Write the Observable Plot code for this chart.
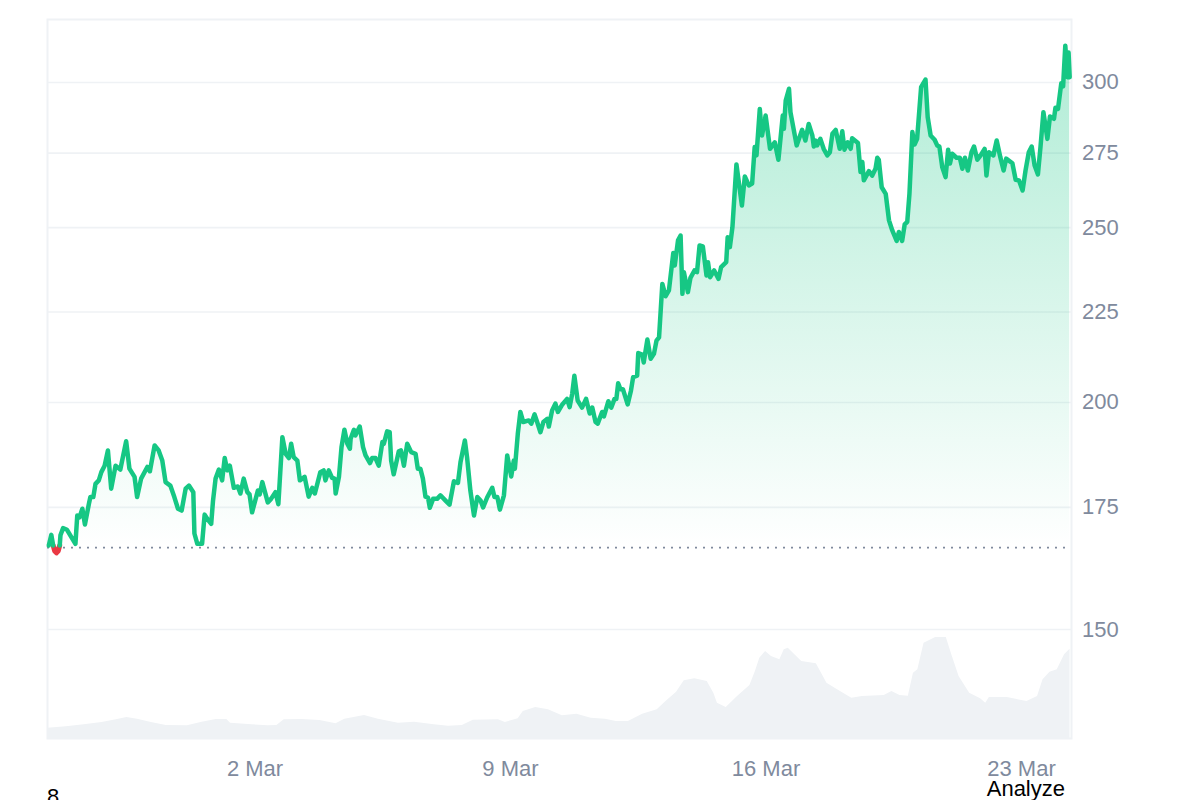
<!DOCTYPE html>
<html>
<head>
<meta charset="utf-8">
<script src="https://cdn.jsdelivr.net/npm/d3@7"></script>
<script src="https://cdn.jsdelivr.net/npm/@observablehq/plot@0.6"></script>
<style>
html,body{margin:0;padding:0;background:#fff;overflow:hidden;width:1200px;height:800px;position:relative;}
#chart{display:block;height:800px;}
#foot{position:absolute;left:0;top:776px;width:1200px;height:24px;font-family:"Liberation Sans",Arial,sans-serif;font-size:22px;color:#000;}
#foot span{position:absolute;white-space:nowrap;}
#count{left:47px;top:8px;}
#analyze{right:135px;top:0;}
</style>
</head>
<body>
<div id="chart"></div>
<div id="foot"><span id="count">8</span><span id="analyze">Analyze</span></div>
<script>
// days relative to 2 March
const priceDays = [-5.65,-5.58,-5.53,-5.49,-5.44,-5.39,-5.35,-5.33,-5.26,-5.15,-5.06,-4.92,-4.87,-4.81,-4.73,-4.66,-4.55,-4.51,-4.43,-4.37,-4.28,-4.21,-4.12,-4.03,-3.94,-3.82,-3.69,-3.53,-3.44,-3.30,-3.23,-3.12,-2.95,-2.88,-2.75,-2.64,-2.54,-2.45,-2.32,-2.21,-2.11,-2.01,-1.90,-1.81,-1.69,-1.66,-1.58,-1.45,-1.38,-1.31,-1.20,-1.15,-1.08,-0.99,-0.90,-0.83,-0.76,-0.69,-0.58,-0.47,-0.40,-0.31,-0.21,-0.15,-0.08,0.08,0.13,0.20,0.35,0.44,0.56,0.64,0.75,0.84,0.93,0.99,1.06,1.16,1.23,1.36,1.47,1.57,1.64,1.79,1.88,1.93,2.02,2.11,2.18,2.21,2.30,2.37,2.45,2.53,2.60,2.62,2.71,2.75,2.87,2.96,3.03,3.15,3.21,3.30,3.39,3.49,3.53,3.62,3.69,3.73,3.80,3.94,4.00,4.08,4.17,4.28,4.40,4.46,4.53,4.60,4.67,4.74,4.79,4.88,4.99,5.08,5.22,5.33,5.45,5.56,5.63,5.75,5.81,5.90,6.00,6.09,6.18,6.25,6.36,6.50,6.56,6.64,6.71,6.82,6.91,7.02,7.09,7.12,7.20,7.27,7.35,7.50,7.57,7.66,7.73,7.82,7.90,8.01,8.05,8.14,8.23,8.30,8.42,8.55,8.62,8.69,8.75,8.84,8.96,9.07,9.17,9.24,9.33,9.39,9.51,9.56,9.68,9.76,9.85,9.90,9.95,10.01,10.08,10.21,10.30,10.36,10.47,10.50,10.61,10.65,10.75,10.84,10.93,11.00,11.07,11.16,11.25,11.34,11.46,11.50,11.59,11.66,11.71,11.75,11.86,11.93,12.04,12.11,12.18,12.27,12.37,12.41,12.47,12.58,12.70,12.77,12.91,12.95,13.01,13.08,13.19,13.34,13.42,13.53,13.62,13.69,13.74,13.83,13.89,13.99,14.11,14.24,14.34,14.46,14.49,14.54,14.63,14.67,14.84,14.99,15.08,15.17,15.27,15.31,15.36,15.40,15.49,15.58,15.68,15.75,15.82,15.91,16.02,16.09,16.15,16.24,16.32,16.36,16.52,16.59,16.64,16.68,16.82,16.91,17.00,17.05,17.09,17.17,17.28,17.37,17.46,17.58,17.64,17.73,17.80,17.87,17.93,18.01,18.07,18.14,18.25,18.37,18.43,18.51,18.62,18.69,18.75,18.83,18.92,18.99,19.04,19.10,19.22,19.31,19.38,19.45,19.53,19.63,19.70,19.79,19.88,19.99,20.04,20.11,20.23,20.32,20.42,20.51,20.58,20.75,20.84,20.93,21.03,21.11,21.20,21.28,21.36,21.45,21.52,21.60,21.71,21.78,21.89,21.93,22.00,22.09,22.14,22.20,22.26,22.29,22.32];
const priceValues = [166.85,169.1,166.85,165.7,165.3,165.7,166.85,169.0,170.55,170.2,169.0,167.2,173.3,172.9,174.8,171.35,175.9,177.4,177.4,180.4,181.2,183.1,184.6,188.2,179.3,184.6,183.7,190.4,183.9,182.0,177.4,181.6,184.3,183.3,189.4,188.2,185.8,180.8,180.0,177.4,174.8,174.4,179.3,180.0,178.5,169.4,167.2,167.2,173.5,172.6,171.5,176.6,181.6,183.7,181.2,186.4,183.5,184.6,179.5,179.8,178.2,181.6,178.5,178.0,174.0,178.9,178.0,180.8,176.2,177.0,178.5,175.8,191.4,187.4,186.4,189.8,186.6,185.8,181.2,182.0,177.5,179.5,178.2,183.1,183.5,181.2,183.5,181.8,181.6,178.2,182.0,189.0,193.2,189.8,188.6,191.0,193.2,191.8,194.0,189.0,187.0,185.2,186.4,186.4,184.6,190.2,189.8,192.8,192.6,185.8,182.6,188.0,188.2,184.6,189.8,187.8,187.4,183.9,183.9,181.6,177.5,177.3,175.0,177.0,177.0,177.8,176.6,175.7,181.0,180.6,185.4,190.6,186.6,178.9,173.3,177.4,176.6,175.1,177.3,179.5,177.4,177.4,174.6,177.8,187.0,182.1,185.8,183.9,192.2,197.6,195.1,195.5,194.7,197.0,195.1,192.6,195.1,195.9,194.0,198.0,199.7,197.6,199.5,200.9,198.8,202.2,206.9,200.5,198.7,200.9,197.2,198.7,195.1,194.7,197.6,196.5,200.3,198.7,200.9,200.9,204.9,203.4,203.4,199.5,203.0,206.5,206.9,212.9,212.5,210.4,216.6,211.4,212.7,216.3,217.2,232.4,228.8,230.5,241.7,237.9,245.6,247.1,229.5,235.9,230.0,234.2,236.4,235.9,244.0,243.7,234.9,238.9,234.4,236.4,233.9,237.4,238.9,246.6,243.5,249.7,270.4,256.7,266.3,263.3,263.9,276.4,273.5,290.1,280.5,287.7,275.8,278.1,272.0,287.7,282.9,293.2,297.6,288.9,277.0,282.5,278.7,284.6,280.5,276.6,278.7,277.0,279.3,275.8,273.5,274.6,281.1,282.5,275.8,282.0,275.5,278.1,275.8,279.5,277.8,267.8,271.2,265.0,268.1,266.6,268.9,272.7,272.0,262.7,260.5,251.9,248.7,245.4,248.2,245.4,250.6,251.4,260.5,281.7,277.3,279.3,298.2,301.1,287.1,280.5,279.0,277.0,276.6,269.4,266.1,275.5,270.7,274.1,272.7,272.7,268.9,272.7,268.3,274.6,276.6,272.0,273.5,275.8,266.6,274.6,273.5,278.7,272.9,268.3,272.4,270.8,265.2,265.0,261.6,268.3,274.6,276.6,270.0,267.0,276.4,288.9,279.3,287.3,286.5,290.5,290.1,299.7,298.5,314.3,302.0,311.6,302.0];
const volumeDays = [-5.68,-5.17,-4.68,-4.19,-3.80,-3.51,-3.22,-2.84,-2.43,-1.85,-1.45,-1.06,-0.77,-0.67,-0.08,0.36,0.60,0.80,1.28,1.78,2.22,2.46,3.00,3.38,3.93,4.37,4.91,5.30,5.68,5.98,6.67,6.86,7.21,7.35,7.69,8.04,8.42,8.82,9.21,9.60,9.90,10.23,10.62,11.02,11.26,11.55,11.76,12.05,12.39,12.57,12.67,12.91,13.22,13.56,13.71,13.83,13.99,14.15,14.38,14.50,14.61,14.98,15.38,15.67,15.96,16.35,16.64,17.24,17.45,17.67,17.90,18.04,18.16,18.33,18.65,18.94,19.09,19.29,19.58,19.88,20.02,20.12,20.61,21.15,21.44,21.59,21.78,21.98,22.18,22.33];
const volumeValues = [103,117,137,160,187,210,193,160,130,127,163,190,190,153,137,127,130,187,190,180,147,193,230,193,153,163,137,123,130,183,187,160,197,270,310,287,227,243,203,193,170,170,243,287,370,463,577,597,570,453,353,310,420,530,670,803,870,820,787,887,903,770,747,553,487,403,420,430,470,430,423,653,687,953,1010,1010,837,620,453,397,353,410,410,370,420,587,663,687,837,893];
const yTickValues = [150,175.1,200,224.3,249.6,274.3,300];
const yTickLabels = ["150","175","200","225","250","275","300"];
const xTickDays = [0,7,14,21];
const xTickLabels = ["2 Mar","9 Mar","16 Mar","23 Mar"];
const openingPrice = 166.4;

const base = Date.UTC(2025,2,2);
const toDate = d => new Date(base + d*864e5);
const points = priceDays.map((d,i)=>({day:d,date:toDate(d),price:priceValues[i]}));
const volume = volumeDays.map((d,i)=>({date:toDate(d),vol:volumeValues[i]}));
const xDomain = [toDate(-5.685), toDate(22.37)];
const xTicks = xTickDays.map(toDate);
const xLabelFor = new Map(xTicks.map((d,i)=>[+d,xTickLabels[i]]));
const yLabelFor = new Map(yTickValues.map((d,i)=>[d,yTickLabels[i]]));
const W = 1200, H = 800, mL = 47, mR = 129, mT = 19, mB = 62;
const font = '"Liberation Sans",Arial,sans-serif';
const axisFill = "#808a9d", gridC = "#eff2f5", green = "#16c784", red = "#ea3943";

const redPart = points.filter(d=>d.day>=-5.53 && d.day<=-5.35);
const greenPart = points.filter(d=>d.day<=-5.53 || d.day>=-5.35);

const volumePlot = () => Plot.plot({
  width:W,height:H,marginLeft:mL,marginRight:mR,marginTop:mT,marginBottom:mB,
  style:{background:"transparent"},
  x:{type:"utc",domain:xDomain,axis:null},
  y:{domain:[0,7190],axis:null},
  marks:[Plot.areaY(volume,{x:"date",y:"vol",fill:gridC})]
});

const gradient = () => {
  const defs = d3.create("svg:defs");
  const g = defs.append("linearGradient").attr("id","priceFill").attr("x1",0).attr("y1",0).attr("x2",0).attr("y2",1);
  g.append("stop").attr("offset","0%").attr("stop-color",green).attr("stop-opacity",0.34);
  g.append("stop").attr("offset","100%").attr("stop-color",green).attr("stop-opacity",0);
  return defs.node();
};

const chart = Plot.plot({
  width:W,height:H,marginLeft:mL,marginRight:mR,marginTop:mT,marginBottom:mB,
  style:{background:"transparent",fontFamily:font},
  x:{type:"utc",domain:xDomain},
  y:{type:"log",domain:[130.65,324.9]},
  marks:[
    gradient,
    volumePlot,
    Plot.ruleY(yTickValues,{stroke:gridC,strokeWidth:1.6}),
    Plot.frame({stroke:gridC,strokeWidth:2}),
    Plot.areaY(points,{x:"date",y1:openingPrice,y2:d=>Math.max(d.price,openingPrice),fill:"url(#priceFill)"}),
    Plot.ruleY([openingPrice],{stroke:axisFill,strokeWidth:1.6,strokeDasharray:"2 6"}),
    Plot.line(redPart,{x:"date",y:"price",stroke:red,strokeWidth:5,strokeLinecap:"round",strokeLinejoin:"round"}),
    Plot.line(greenPart,{x:"date",y:"price",z:d=>d.day<-5.4,stroke:green,strokeWidth:4.5,strokeLinecap:"round",strokeLinejoin:"round"}),
    Plot.axisY(yTickValues,{anchor:"right",label:null,tickSize:0,tickPadding:10.5,fontSize:22,fill:axisFill,tickFormat:d=>yLabelFor.get(d)}),
    Plot.axisX(xTicks,{anchor:"bottom",label:null,tickSize:0,tickPadding:22,fontSize:22,fill:axisFill,tickFormat:d=>xLabelFor.get(+d)})
  ]
});
document.getElementById("chart").append(chart);
</script>
</body>
</html>
